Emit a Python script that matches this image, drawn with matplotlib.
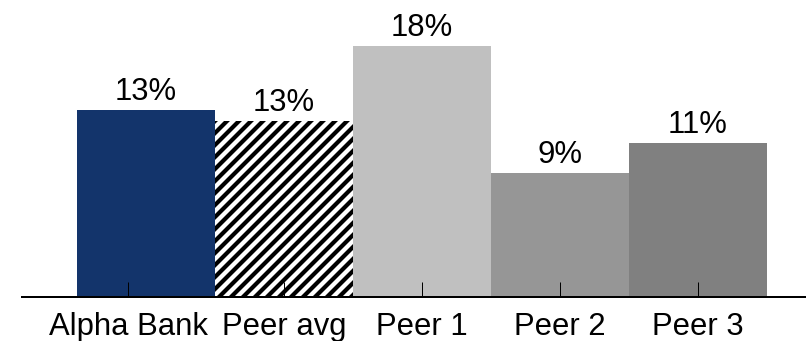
import numpy as np
import matplotlib
matplotlib.use('Agg')
import matplotlib.pyplot as plt

# data
categories = ['Alpha Bank', 'Peer avg', 'Peer 1', 'Peer 2', 'Peer 3']
values = [13.4, 12.6, 18.0, 8.9, 11.0]
labels = ['13%', '13%', '18%', '9%', '11%']
colors = ['#13346b', 'white', '#c0c0c0', '#969696', '#808080']
hatches = [None, '//', None, None, None]

plt.rcParams['font.family'] = ['Liberation Sans', 'DejaVu Sans']
plt.rcParams['hatch.linewidth'] = 4.2
plt.rcParams['hatch.color'] = 'black'

dpi = 72
W, H = 806, 341
fig = plt.figure(figsize=(W/dpi, H/dpi), dpi=dpi)
# axes spans from x=22px to right edge, baseline at y=297px
ax = fig.add_axes([22/W, 44/H, (W-22)/W, 297/H])

x = np.arange(len(categories))
bars = ax.bar(x, values, width=1.0, color=colors, linewidth=0)
for b, h in zip(bars, hatches):
    if h:
        b.set_hatch(h)

for xi, v, lab in zip(x, values, labels):
    ax.annotate(lab, (xi, v), xytext=(0, 10), textcoords='offset points',
                ha='center', va='baseline', fontsize=31)

ax.set_xlim(-0.5 - 55/138, -0.5 + 729/138)
ax.set_ylim(0, 297/13.96)

# first tick sits a bit left of its bar centre, as in the original
tick_pos = x.astype(float)
tick_pos[0] -= 0.127
ax.set_xticks(tick_pos)
ax.set_xticklabels(categories, fontsize=31)
ax.tick_params(axis='x', direction='in', length=15, width=1, pad=15)
ax.set_xticks(tick_pos, minor=True)
ax.tick_params(axis='x', which='minor', direction='out', length=6, width=1)
ax.set_yticks([])

for s in ['top', 'right', 'left']:
    ax.spines[s].set_visible(False)
ax.spines['bottom'].set_linewidth(2)

fig.savefig('out.png', dpi=dpi)
